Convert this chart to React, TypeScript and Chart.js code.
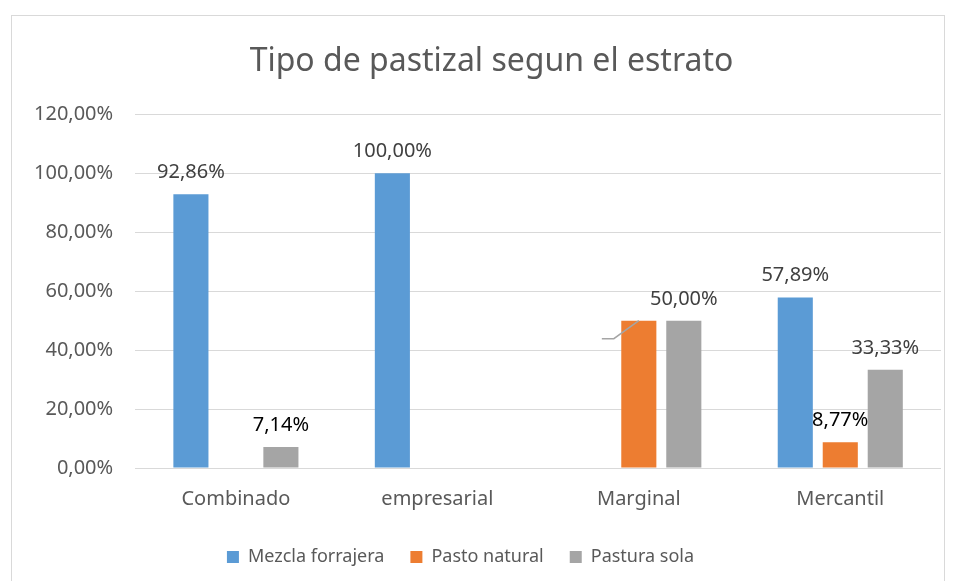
import React, { useEffect, useRef } from "react";
import { Chart, registerables } from "chart.js";

Chart.register(...registerables);

const categories = ["Combinado", "empresarial", "Marginal", "Mercantil"];
const seriesNames = ["Mezcla forrajera", "Pasto natural", "Pastura sola"];
const mezclaForrajera = [92.86, 100.0, null, 57.89];
const pastoNatural = [null, null, 50.0, 8.77];
const pasturaSola = [7.14, null, 50.0, 33.33];
const seriesColors = ["#5B9BD5", "#ED7D31", "#A5A5A5"];
// label colours per series per category
const labelColors = [
  ["#404040", "#404040", "#404040", "#404040"],
  ["#000000", "#000000", "#404040", "#000000"],
  ["#000000", "#404040", "#404040", "#404040"],
];
// labels moved away with a leader line: [seriesIndex, categoryIndex]
const leaderLabels: [number, number][] = [[1, 2]];
const yTicks = [0, 20, 40, 60, 80, 100, 120];
const title = "Tipo de pastizal segun el estrato";

const FONT = "'Noto Sans', sans-serif";

function fmt(v: number) {
  return v.toFixed(2).replace(".", ",") + "%";
}

const labelPlugin = {
  id: "barLabels",
  afterLayout(chart: any) {
    if (chart.legend) {
      chart.legend.left -= 16;
      chart.legend.right -= 16;
    }
    if (chart.titleBlock) {
      chart.titleBlock.left += 15;
      chart.titleBlock.right += 15;
    }
  },
  afterDatasetsDraw(chart: any) {
    const ctx = chart.ctx;
    ctx.save();
    chart.data.datasets.forEach((ds: any, di: number) => {
      const meta = chart.getDatasetMeta(di);
      meta.data.forEach((bar: any, i: number) => {
        const v = ds.data[i];
        if (v === null || v === undefined) return;
        const isLeader = leaderLabels.some(([a, b]) => a === di && b === i);
        if (isLeader) {
          ctx.strokeStyle = "#A5A5A5";
          ctx.lineWidth = 1.5;
          ctx.beginPath();
          ctx.moveTo(bar.x, bar.y);
          ctx.lineTo(bar.x - 25, bar.y + 18);
          ctx.lineTo(bar.x - 37, bar.y + 18);
          ctx.stroke();
          return;
        }
        ctx.fillStyle = labelColors[di][i];
        ctx.font = `20px ${FONT}`;
        ctx.textAlign = "center";
        ctx.textBaseline = "alphabetic";
        ctx.fillText(fmt(v), bar.x, bar.y - 16);
      });
    });
    ctx.restore();
  },
};

export default function App() {
  const ref = useRef<HTMLCanvasElement | null>(null);
  useEffect(() => {
    document.body.style.margin = "0";
    const chart = new Chart(ref.current as HTMLCanvasElement, {
      type: "bar",
      data: {
        labels: categories,
        datasets: [mezclaForrajera, pastoNatural, pasturaSola].map((d, k) => ({
          label: seriesNames[k],
          data: d,
          backgroundColor: seriesColors[k],
          borderWidth: 0,
          categoryPercentage: 0.67,
          barPercentage: 0.78,
        })),
      },
      options: {
        animation: false,
        responsive: false,
        maintainAspectRatio: false,
        layout: { padding: { top: 43, left: 12, right: 15, bottom: 5 } },
        scales: {
          x: {
            grid: { display: false },
            border: { display: false },
            ticks: { color: "#595959", font: { family: FONT, size: 20 }, padding: 11 },
          },
          y: {
            min: 0,
            max: 120,
            afterBuildTicks: (axis: any) => {
              axis.ticks = yTicks.map((v) => ({ value: v }));
            },
            grid: { color: "#D9D9D9", lineWidth: 1, drawTicks: false },
            border: { display: false },
            ticks: {
              color: "#595959",
              font: { family: FONT, size: 20 },
              padding: 22,
              callback: (v: any) => fmt(Number(v)),
            },
          },
        },
        plugins: {
          title: {
            display: true,
            text: title,
            color: "#595959",
            font: { family: FONT, size: 32, weight: "normal" },
            padding: { top: 0, bottom: 33 },
          },
          legend: {
            position: "bottom",
            labels: {
              color: "#595959",
              font: { family: FONT, size: 18 },
              boxWidth: 12,
              boxHeight: 12,
              padding: 26,
            },
          },
          tooltip: { enabled: false },
        },
      },
      plugins: [labelPlugin],
    });
    return () => chart.destroy();
  }, []);
  return (
    <div style={{ position: "relative", width: 956, height: 581, overflow: "hidden", background: "#fff" }}>
      <div
        style={{
          position: "absolute",
          left: 11,
          top: 15,
          width: 934,
          height: 600,
          border: "1px solid #D9D9D9",
          boxSizing: "border-box",
        }}
      />
      <canvas ref={ref} width={956} height={581} style={{ position: "absolute", left: 0, top: 0 }} />
    </div>
  );
}
